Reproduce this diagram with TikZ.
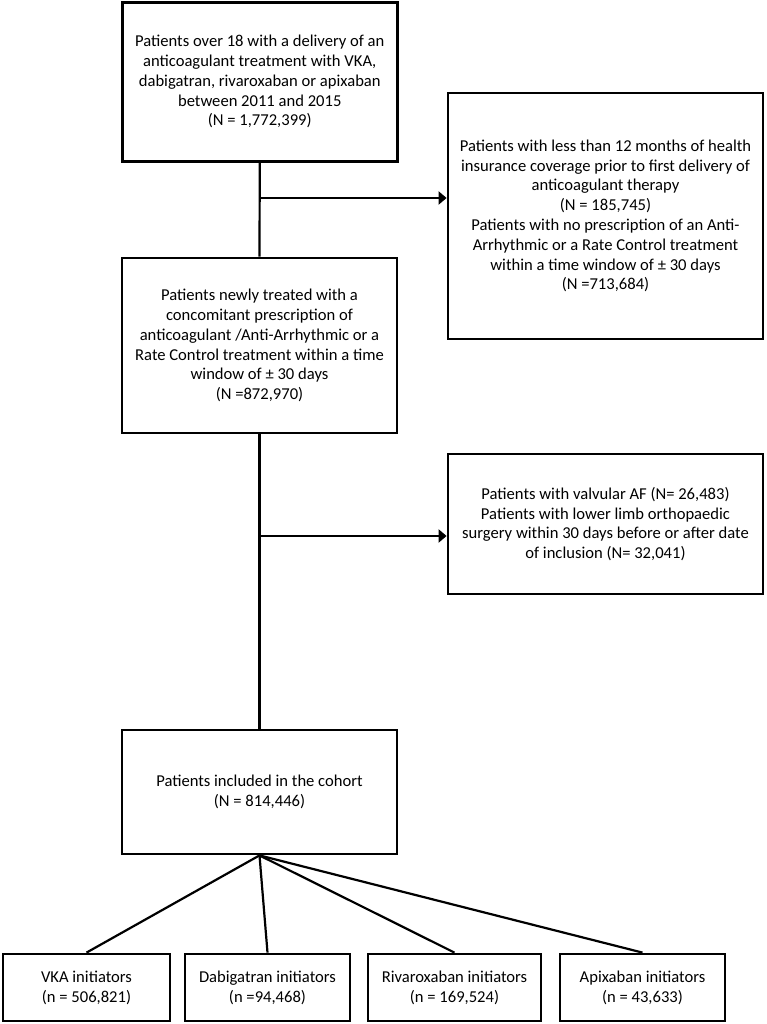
\documentclass[tikz,border=0pt]{standalone}
\usepackage{fontspec}
\setmainfont{Carlito}
\usetikzlibrary{arrows.meta}

\tikzset{
	flowbox/.style={draw, line width=2.8pt, align=center, inner sep=0pt, font=\fontsize{16.6}{19.8}\selectfont},
	link/.style={line width=2.2pt},
	linkarrow/.style={link, -{Triangle[length=8pt,width=13pt]}}
}

\begin{document}
\begin{tikzpicture}[x=1pt,y=-1pt]
				\useasboundingbox (0,0) rectangle (767,1024);
				
				% main column
				\node[flowbox, minimum width=275pt, minimum height=159pt] (start) at (259.75,81.75)
				{Patients over 18 with a delivery of an\\ anticoagulant treatment with VKA,\\ dabigatran, rivaroxaban or apixaban\\ between 2011 and 2015\\ (N = 1,772,399)};
				\node[flowbox, minimum width=275pt, minimum height=175pt] (newly) at (259.5,345.5)
				{Patients newly treated with a\\ concomitant prescription of\\ anticoagulant /Anti-Arrhythmic or a\\ Rate Control treatment within a time\\ window of ± 30 days\\ (N =872,970)};
				\node[flowbox, minimum width=275pt, minimum height=124pt] (cohort) at (259.5,792)
				{Patients included in the cohort\\ (N = 814,446)};
				
				% exclusions
				\node[flowbox, minimum width=315pt, minimum height=246pt] (excl1) at (605.5,216)
				{Patients with less than 12 months of health\\ insurance coverage prior to first delivery of\\ anticoagulant therapy\\ (N = 185,745)\\ Patients with no prescription of an Anti-\\ Arrhythmic or a Rate Control treatment\\ within a time window of ± 30 days\\ (N =713,684)};
				\node[flowbox, minimum width=315pt, minimum height=140pt] (excl2) at (605.5,524)
				{Patients with valvular AF (N= 26,483)\\ Patients with lower limb orthopaedic\\ surgery within 30 days before or after date\\ of inclusion (N= 32,041)};
				
				% treatment groups
				\node[flowbox, minimum width=167pt, minimum height=67pt] (vka) at (86.5,987.5)
				{VKA initiators\\ (n = 506,821)};
				\node[flowbox, minimum width=165pt, minimum height=67pt] (dabi) at (267.5,987.5)
				{Dabigatran initiators\\ (n =94,468)};
				\node[flowbox, minimum width=173pt, minimum height=67pt] (riva) at (454.5,987.5)
				{Rivaroxaban initiators\\ (n = 169,524)};
				\node[flowbox, minimum width=165pt, minimum height=67pt] (apix) at (642.5,987.5)
				{Apixaban initiators\\ (n = 43,633)};
				
				\coordinate (split1) at (260,198);
				\coordinate (split2) at (260,536);
				
				\draw[link] (start.south) -- (newly.north);
				\draw[link] (newly.south) -- (cohort.north);
				\draw[linkarrow] (split1) -- (split1 -| excl1.west);
				\draw[linkarrow] (split2) -- (split2 -| excl2.west);
				
				\foreach \grp in {vka,dabi,riva,apix}
					\draw[link] (cohort.south) -- (\grp.north);
			\end{tikzpicture}
\end{document}
